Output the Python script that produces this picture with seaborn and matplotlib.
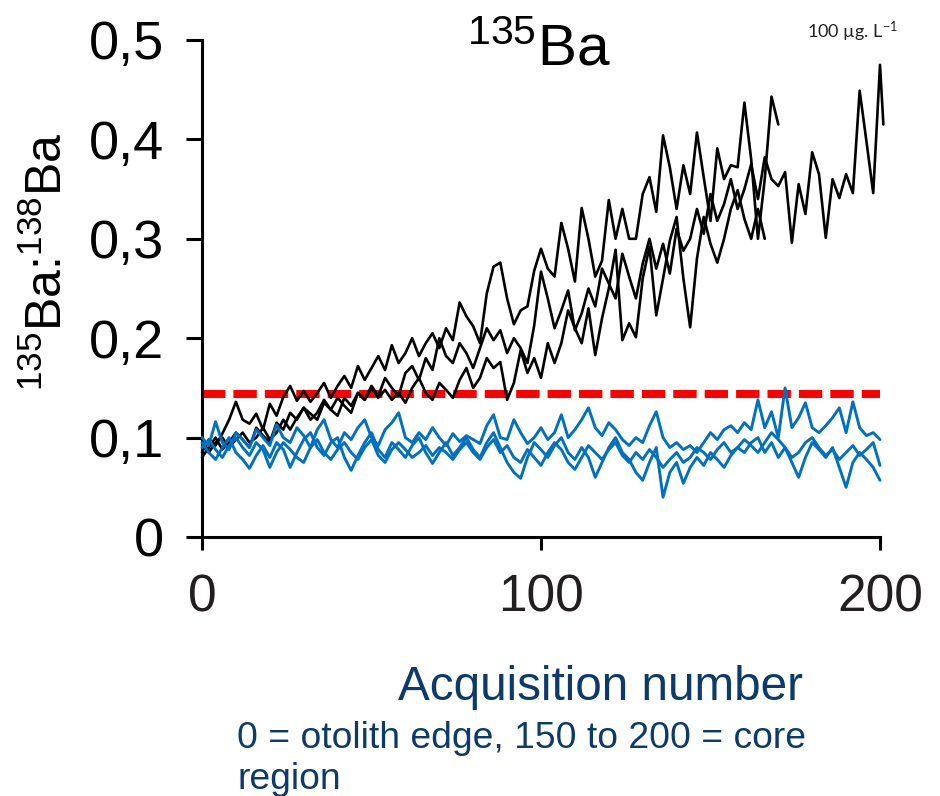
import matplotlib
matplotlib.use("Agg")
import matplotlib.pyplot as plt
import pandas as pd
import seaborn as sns

# ---- data: 135Ba:138Ba ratio along laser transects (acquisition number) ----
acq_spiked_a = list(range(0, 201, 2)) + [201]
ratio_spiked_a = [
    0.080, 0.090, 0.100, 0.088, 0.095, 0.105, 0.098, 0.090, 0.110, 0.102,
    0.095, 0.115, 0.108, 0.125, 0.118, 0.130, 0.124, 0.118, 0.135, 0.128,
    0.122, 0.140, 0.132, 0.145, 0.138, 0.152, 0.142, 0.160, 0.150, 0.142,
    0.165, 0.172, 0.158, 0.180, 0.168, 0.200, 0.182, 0.175, 0.195, 0.185,
    0.170, 0.190, 0.210, 0.198, 0.208, 0.185, 0.200, 0.190, 0.175, 0.213,
    0.267, 0.240, 0.210, 0.228, 0.248, 0.208, 0.225, 0.250, 0.232, 0.270,
    0.255, 0.240, 0.285, 0.262, 0.240, 0.275, 0.300, 0.270, 0.295, 0.265,
    0.310, 0.288, 0.300, 0.330, 0.305, 0.345, 0.318, 0.335, 0.360, 0.330,
    0.350, 0.375, 0.340, 0.382, 0.360, 0.353, 0.367, 0.296, 0.355, 0.325,
    0.387, 0.365, 0.301, 0.360, 0.341, 0.365, 0.346, 0.449, 0.398, 0.346,
    0.475, 0.415,
]

acq_spiked_b = list(range(0, 171, 2))
ratio_spiked_b = [
    0.085, 0.098, 0.092, 0.104, 0.118, 0.136, 0.118, 0.114, 0.124, 0.108,
    0.134, 0.122, 0.141, 0.152, 0.137, 0.147, 0.136, 0.145, 0.155, 0.140,
    0.152, 0.162, 0.150, 0.172, 0.158, 0.170, 0.182, 0.168, 0.193, 0.175,
    0.185, 0.200, 0.182, 0.195, 0.205, 0.190, 0.210, 0.198, 0.236, 0.222,
    0.212, 0.195, 0.245, 0.272, 0.276, 0.240, 0.214, 0.228, 0.232, 0.268,
    0.290, 0.270, 0.262, 0.316, 0.290, 0.257, 0.331, 0.300, 0.262, 0.278,
    0.339, 0.300, 0.330, 0.300, 0.300, 0.345, 0.362, 0.327, 0.404, 0.372,
    0.330, 0.374, 0.345, 0.407, 0.362, 0.318, 0.391, 0.360, 0.374, 0.372,
    0.437, 0.380, 0.300, 0.360, 0.443, 0.415,
]

acq_spiked_c = list(range(0, 167, 2))
ratio_spiked_c = [
    0.100, 0.085, 0.095, 0.100, 0.090, 0.098, 0.105, 0.095, 0.100, 0.110,
    0.098, 0.105, 0.118, 0.108, 0.120, 0.130, 0.118, 0.125, 0.138, 0.128,
    0.140, 0.132, 0.125, 0.145, 0.138, 0.150, 0.140, 0.148, 0.138, 0.145,
    0.135, 0.150, 0.160, 0.145, 0.138, 0.155, 0.148, 0.140, 0.158, 0.170,
    0.150, 0.160, 0.180, 0.170, 0.176, 0.138, 0.155, 0.188, 0.165, 0.180,
    0.160, 0.195, 0.175, 0.195, 0.228, 0.210, 0.195, 0.230, 0.183, 0.220,
    0.250, 0.289, 0.198, 0.215, 0.201, 0.260, 0.292, 0.223, 0.260, 0.298,
    0.322, 0.260, 0.211, 0.280, 0.322, 0.295, 0.276, 0.300, 0.330, 0.349,
    0.320, 0.300, 0.330, 0.300,
]

acq_control = list(range(0, 201, 2))
ratio_control_a = [
    0.100, 0.092, 0.116, 0.095, 0.088, 0.105, 0.098, 0.090, 0.108, 0.100,
    0.092, 0.113, 0.100, 0.095, 0.110, 0.102, 0.090, 0.108, 0.118, 0.098,
    0.090, 0.105, 0.098, 0.110, 0.118, 0.100, 0.092, 0.108, 0.115, 0.125,
    0.100, 0.095, 0.105, 0.098, 0.110, 0.100, 0.092, 0.104, 0.096, 0.102,
    0.098, 0.094, 0.112, 0.123, 0.100, 0.098, 0.118, 0.105, 0.094, 0.100,
    0.110, 0.098, 0.105, 0.123, 0.100, 0.108, 0.118, 0.130, 0.110, 0.102,
    0.115, 0.108, 0.098, 0.092, 0.100, 0.095, 0.112, 0.126, 0.100, 0.090,
    0.095, 0.088, 0.092, 0.085, 0.095, 0.105, 0.098, 0.108, 0.112, 0.105,
    0.115, 0.108, 0.138, 0.110, 0.126, 0.100, 0.150, 0.110, 0.120, 0.135,
    0.110, 0.105, 0.112, 0.120, 0.130, 0.105, 0.136, 0.110, 0.102, 0.105,
    0.098,
]
ratio_control_b = [
    0.095, 0.085, 0.078, 0.090, 0.100, 0.085, 0.078, 0.069, 0.082, 0.092,
    0.080, 0.095, 0.088, 0.070, 0.085, 0.098, 0.105, 0.090, 0.082, 0.095,
    0.100, 0.080, 0.067, 0.082, 0.095, 0.105, 0.088, 0.080, 0.095, 0.088,
    0.080, 0.092, 0.100, 0.085, 0.074, 0.085, 0.095, 0.082, 0.090, 0.100,
    0.088, 0.080, 0.095, 0.105, 0.090, 0.075, 0.065, 0.059, 0.080, 0.095,
    0.088, 0.080, 0.092, 0.100, 0.085, 0.078, 0.090, 0.080, 0.060, 0.075,
    0.090, 0.100, 0.085, 0.078, 0.065, 0.057, 0.075, 0.090, 0.040, 0.065,
    0.075, 0.054, 0.070, 0.080, 0.072, 0.085, 0.078, 0.070, 0.082, 0.090,
    0.085, 0.095, 0.100, 0.085, 0.095, 0.080, 0.090, 0.075, 0.060, 0.080,
    0.095, 0.088, 0.080, 0.090, 0.070, 0.050, 0.075, 0.085, 0.078, 0.070,
    0.057,
]
ratio_control_c = [
    0.090, 0.098, 0.088, 0.080, 0.092, 0.100, 0.090, 0.082, 0.095, 0.088,
    0.070, 0.085, 0.095, 0.088, 0.080, 0.075, 0.090, 0.098, 0.085, 0.078,
    0.088, 0.095, 0.085, 0.078, 0.090, 0.098, 0.082, 0.075, 0.088, 0.095,
    0.088, 0.080, 0.085, 0.092, 0.082, 0.090, 0.085, 0.078, 0.088, 0.095,
    0.085, 0.078, 0.090, 0.098, 0.085, 0.092, 0.080, 0.075, 0.088, 0.080,
    0.072, 0.085, 0.095, 0.088, 0.075, 0.068, 0.080, 0.092, 0.085, 0.078,
    0.088, 0.095, 0.082, 0.075, 0.085, 0.078, 0.088, 0.080, 0.070, 0.078,
    0.085, 0.075, 0.080, 0.090, 0.085, 0.078, 0.088, 0.095, 0.085, 0.090,
    0.098, 0.092, 0.085, 0.095, 0.105, 0.098, 0.090, 0.080, 0.085, 0.095,
    0.100, 0.090, 0.082, 0.088, 0.078, 0.085, 0.092, 0.082, 0.088, 0.095,
    0.072,
]

threshold = 0.144
x_ticks = [0, 100, 200]
x_tick_labels = ["0", "100", "200"]
y_ticks = [0.0, 0.1, 0.2, 0.3, 0.4, 0.5]
y_tick_labels = ["0", "0,1", "0,2", "0,3", "0,4", "0,5"]


def profile_frame(name, treatment, acq, ratio):
    return pd.DataFrame({"acquisition": acq, "ratio": ratio,
                         "profile": name, "treatment": treatment})


spiked = pd.concat([
    profile_frame("S1", "spiked", acq_spiked_a, ratio_spiked_a),
    profile_frame("S2", "spiked", acq_spiked_b, ratio_spiked_b),
    profile_frame("S3", "spiked", acq_spiked_c, ratio_spiked_c),
], ignore_index=True)
control = pd.concat([
    profile_frame("C1", "control", acq_control, ratio_control_a),
    profile_frame("C2", "control", acq_control, ratio_control_b),
    profile_frame("C3", "control", acq_control, ratio_control_c),
], ignore_index=True)

# ---- styling ----
sns.set_theme(style="white")
plt.rcParams["font.family"] = ["Liberation Sans", "DejaVu Sans"]
plt.rcParams["mathtext.fontset"] = "custom"
plt.rcParams["mathtext.rm"] = "Liberation Sans"

W, H = 940, 796
fig = plt.figure(figsize=(W / 100, H / 100), dpi=100)
ax = fig.add_axes([202 / W, 1 - 537 / H, (880 - 202) / W, (537 - 40) / H])

ax.hlines(threshold, 0, 200, colors="#FF0000", linewidth=5.8,
          linestyles=(0, (2.9, 1.0)), zorder=1)

sns.lineplot(data=spiked, x="acquisition", y="ratio", units="profile",
             estimator=None, sort=False, color="black", linewidth=1.9,
             ax=ax, zorder=2)
sns.lineplot(data=control, x="acquisition", y="ratio", units="profile",
             estimator=None, sort=False, color="#0070C0", linewidth=2.1,
             ax=ax, zorder=3)
for line in ax.lines:
    line.set_clip_on(False)
    line.set_solid_joinstyle("round")

ax.set_xlim(0, 200)
ax.set_ylim(0, 0.5)
ax.set_xticks(x_ticks, labels=x_tick_labels)
ax.set_yticks(y_ticks, labels=y_tick_labels)
ax.set_xlabel("")
ax.set_ylabel("")

for side in ("top", "right"):
    ax.spines[side].set_visible(False)
for side in ("left", "bottom"):
    ax.spines[side].set_linewidth(2.2)
    ax.spines[side].set_color("black")

ax.tick_params(axis="y", direction="out", length=11.5, width=2.2,
               color="black", labelsize=39, labelcolor="black", pad=16, left=True)
ax.tick_params(axis="x", direction="out", length=9.5, width=2.2,
               color="black", labelsize=37, labelcolor="#231F20", pad=17, bottom=True)

# ---- text ----
fig.text(539 / W, 1 - 65 / H, r"$\mathregular{^{135}}$Ba", ha="center",
         va="baseline", fontsize=42, color="black")
fig.text(48 / W, 1 - 262 / H, r"$\mathregular{^{135}}$Ba:$\mathregular{^{138}}$Ba",
         rotation=90, ha="center", va="center", fontsize=36, color="black")
fig.text(600 / W, 1 - 700 / H, "Acquisition number", ha="center",
         va="baseline", fontsize=34.3, color="#0B3A6B")
fig.text(237 / W, 1 - 748 / H, "0 = otolith edge, 150 to 200 = core",
         ha="left", va="baseline", fontsize=26.8, color="#0B3A6B")
fig.text(237 / W, 1 - 789 / H, "region",
         ha="left", va="baseline", fontsize=26.8, color="#0B3A6B")
fig.text(852 / W, 1 - 38 / H, r"100 µg. L$\mathregular{^{-1}}$", ha="center",
         va="baseline", fontsize=13, color="#222222",
         family=["Lato", "DejaVu Sans"])

fig.savefig("out.png", dpi=100)
